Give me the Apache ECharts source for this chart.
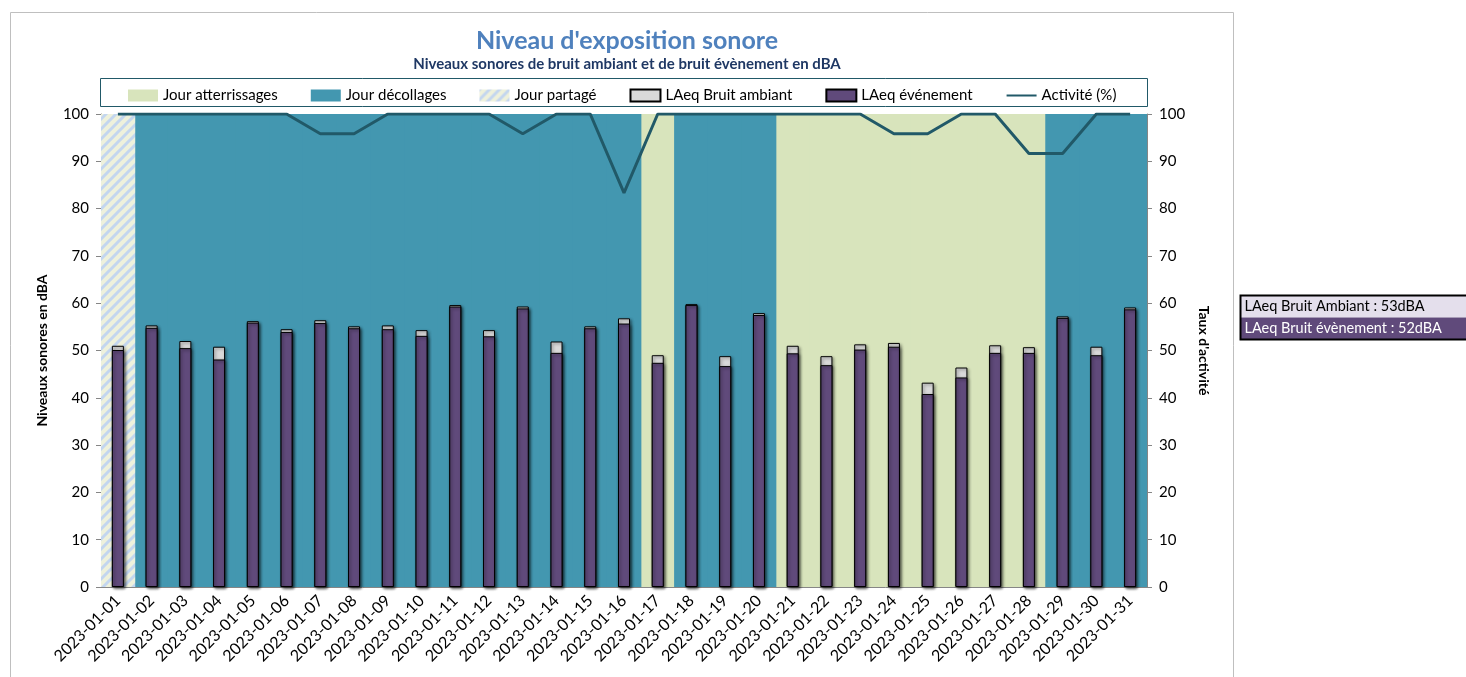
<!DOCTYPE html>
<html lang="fr">
<head>
    <meta charset="UTF-8">
    <title>Niveau d'exposition sonore</title>
    <script src="https://cdn.jsdelivr.net/npm/echarts@6/dist/echarts.min.js"></script>
    <style>
        body { margin: 0; background: #fff; }
        #main { width: 1466px; height: 677px; }
    </style>
</head>
<body>
<div id="main"></div>
<script>
    var days = ['2023-01-01','2023-01-02','2023-01-03','2023-01-04','2023-01-05','2023-01-06','2023-01-07','2023-01-08',
        '2023-01-09','2023-01-10','2023-01-11','2023-01-12','2023-01-13','2023-01-14','2023-01-15','2023-01-16',
        '2023-01-17','2023-01-18','2023-01-19','2023-01-20','2023-01-21','2023-01-22','2023-01-23','2023-01-24',
        '2023-01-25','2023-01-26','2023-01-27','2023-01-28','2023-01-29','2023-01-30','2023-01-31'];
    // P = partagé, D = décollages, A = atterrissages
    var dayType = ['P','D','D','D','D','D','D','D','D','D','D','D','D','D','D','D',
        'A','D','D','D','A','A','A','A','A','A','A','A','D','D','D'];
    var ambiant = [51.0,55.3,52.0,50.8,56.2,54.5,56.4,55.1,55.3,54.3,59.6,54.3,59.3,51.9,55.1,56.8,
        49.0,59.8,48.8,57.9,51.0,48.8,51.3,51.6,43.2,46.4,51.1,50.7,57.2,50.8,59.1];
    var evenement = [50.1,54.8,50.5,48.1,55.9,53.9,55.8,54.7,54.5,53.1,59.3,53.0,58.9,49.5,54.7,55.7,
        47.4,59.6,46.7,57.5,49.4,46.9,50.2,50.8,40.8,44.3,49.5,49.5,56.9,49.0,58.7];
    var activite = [100,100,100,100,100,100,95.83,95.83,100,100,100,100,95.83,100,100,83.33,
        100,100,100,100,100,100,100,95.83,95.83,100,100,91.67,91.67,100,100];
    var moyAmbiant = 53;
    var moyEvenement = 52;

    function bgData(t) {
        return dayType.map(function (d) { return d === t ? 100 : '-'; });
    }

    // motif hachuré pour "Jour partagé"
    var pat = document.createElement('canvas');
    pat.width = 10; pat.height = 10;
    var ctx = pat.getContext('2d');
    ctx.fillStyle = '#eef1dc';
    ctx.fillRect(0, 0, 10, 10);
    ctx.strokeStyle = '#c3d6ef';
    ctx.lineWidth = 3;
    [[-5, 5, 5, -5], [0, 10, 10, 0], [5, 15, 15, 5]].forEach(function (l) {
        ctx.beginPath(); ctx.moveTo(l[0], l[1]); ctx.lineTo(l[2], l[3]); ctx.stroke();
    });

    var font = 'Lato';
    var axisGray = '#868686';
    var myChart = echarts.init(document.getElementById('main'));
    var option = {
        animation: false,
        textStyle: { fontFamily: font },
        title: {
            text: "Niveau d'exposition sonore",
            subtext: 'Niveaux sonores de bruit ambiant et de bruit évènement en dBA',
            left: 622,
            top: 23,
            textAlign: 'center',
            itemGap: 4,
            textStyle: { fontFamily: font, fontSize: 25, fontWeight: 'bold', color: '#4f81bd' },
            subtextStyle: { fontFamily: font, fontSize: 15, fontWeight: 'bold', color: '#1f3864' }
        },
        legend: {
            top: 83,
            left: 123,
            itemGap: 33,
            itemWidth: 30,
            itemHeight: 12,
            textStyle: { fontFamily: font, fontSize: 15, color: '#000' },
            data: [
                { name: 'Jour atterrissages', icon: 'rect' },
                { name: 'Jour décollages', icon: 'rect' },
                { name: 'Jour partagé', icon: 'rect' },
                { name: 'LAeq Bruit ambiant', icon: 'rect' },
                { name: 'LAeq événement', icon: 'rect' },
                { name: 'Activité (%)', itemStyle: { opacity: 0 } }
            ]
        },
        grid: { left: 101, right: 319, top: 114, bottom: 90 },
        xAxis: [
            {
                type: 'category',
                data: days,
                axisLine: { lineStyle: { color: axisGray } },
                axisTick: { lineStyle: { color: axisGray }, length: 5 },
                axisLabel: { rotate: 45, interval: 0, fontSize: 16, color: '#000', margin: 11 }
            },
            {
                type: 'category',
                data: days,
                show: false
            }
        ],
        yAxis: [
            {
                type: 'value',
                min: 0, max: 100, interval: 10,
                name: 'Niveaux sonores en dBA',
                nameLocation: 'middle',
                nameGap: 52,
                nameTextStyle: { fontFamily: font, fontSize: 14, fontWeight: 'bold', color: '#000' },
                axisLine: { show: true, lineStyle: { color: axisGray } },
                axisTick: { show: true, lineStyle: { color: axisGray }, length: 5 },
                axisLabel: { fontSize: 15, color: '#000', margin: 12 },
                splitLine: { show: false }
            },
            {
                type: 'value',
                min: 0, max: 100, interval: 10,
                name: "Taux d'activité",
                nameLocation: 'middle',
                nameRotate: -90,
                nameGap: 50,
                nameTextStyle: { fontFamily: font, fontSize: 14, fontWeight: 'bold', color: '#000' },
                axisLine: { show: true, lineStyle: { color: axisGray } },
                axisTick: { show: true, lineStyle: { color: axisGray }, length: 5 },
                axisLabel: { fontSize: 15, color: '#000', margin: 12 },
                splitLine: { show: false }
            }
        ],
        series: [
            {
                name: 'Jour atterrissages', type: 'bar', xAxisIndex: 1, stack: 'bg',
                barWidth: '103%', z: 1,
                itemStyle: { color: '#d8e4bc' },
                data: bgData('A')
            },
            {
                name: 'Jour décollages', type: 'bar', xAxisIndex: 1, stack: 'bg',
                barWidth: '103%', z: 1,
                itemStyle: { color: '#4397b0' },
                data: bgData('D')
            },
            {
                name: 'Jour partagé', type: 'bar', xAxisIndex: 1, stack: 'bg',
                barWidth: '100%', z: 1,
                itemStyle: { color: { image: pat, repeat: 'repeat' } },
                data: bgData('P')
            },
            {
                name: 'LAeq Bruit ambiant', type: 'bar', barWidth: 12, z: 3,
                itemStyle: {
                    color: '#d9d9d9', borderColor: '#000', borderWidth: 1,
                    shadowColor: 'rgba(0,0,0,0.45)', shadowBlur: 3, shadowOffsetX: 1.5, shadowOffsetY: 1.5
                },
                data: ambiant
            },
            {
                name: 'LAeq événement', type: 'bar', barWidth: 12, barGap: '-100%', z: 3,
                itemStyle: {
                    color: '#604a7b', borderColor: '#000', borderWidth: 1,
                    shadowColor: 'rgba(0,0,0,0.45)', shadowBlur: 3, shadowOffsetX: 1.5, shadowOffsetY: 1.5
                },
                data: evenement
            },
            {
                name: 'Activité (%)', type: 'line', yAxisIndex: 1, z: 4,
                symbol: 'none',
                itemStyle: { color: '#215968' },
                lineStyle: { color: '#215968', width: 3 },
                data: activite
            }
        ],
        graphic: [
            {
                type: 'rect', silent: true, z: -10,
                shape: { x: 10.5, y: 12.5, width: 1223, height: 700 },
                style: { fill: null, stroke: '#bfbfbf', lineWidth: 1 }
            },
            {
                type: 'rect', silent: true, z: -5,
                shape: { x: 100.5, y: 78.5, width: 1047, height: 28 },
                style: { fill: '#fff', stroke: '#215968', lineWidth: 1 }
            },
            {
                type: 'group', left: 1238, top: 293,
                children: [
                    { type: 'rect', shape: { x: 1, y: 1, width: 227, height: 22 }, style: { fill: '#e4dfec' } },
                    { type: 'rect', shape: { x: 1, y: 23, width: 227, height: 22 }, style: { fill: '#604a7b' } },
                    { type: 'rect', shape: { x: 1, y: 1, width: 227, height: 44 }, style: { fill: null, stroke: '#000', lineWidth: 2 } },
                    { type: 'text', x: 5, y: 12, style: { text: 'LAeq Bruit Ambiant : ' + moyAmbiant + 'dBA', font: '14.5px Lato', fill: '#000', verticalAlign: 'middle' } },
                    { type: 'text', x: 5, y: 34, style: { text: 'LAeq Bruit évènement : ' + moyEvenement + 'dBA', font: '14.5px Lato', fill: '#fff', verticalAlign: 'middle' } }
                ]
            }
        ]
    };
    myChart.setOption(option);
</script>
</body>
</html>
